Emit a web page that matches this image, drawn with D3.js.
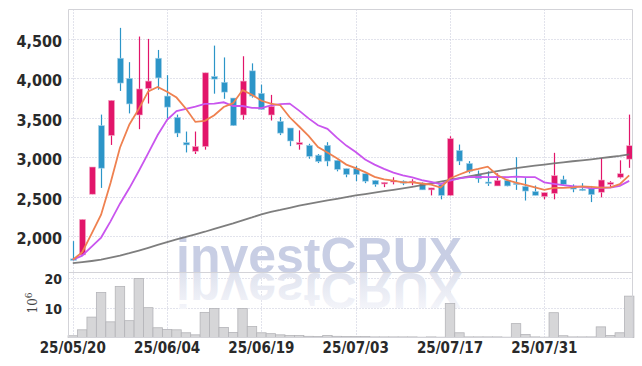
<!DOCTYPE html>
<html>
<head>
<meta charset="utf-8">
<script src="https://cdn.jsdelivr.net/npm/d3@7"></script>
<style>
  html, body { margin: 0; padding: 0; background: #fff; }
  svg { display: block; }
  .tick-label { font-family: "Liberation Sans Narrow", "DejaVu Sans Condensed", sans-serif; font-weight: bold; fill: #2a2a2a; }
</style>
</head>
<body>
<script>
// trading days shown on the chart
const dates = [
  "25/05/20","25/05/21","25/05/22","25/05/23","25/05/26","25/05/27","25/05/28","25/05/29","25/05/30","25/06/02",
  "25/06/04","25/06/05","25/06/09","25/06/10","25/06/11","25/06/12","25/06/13","25/06/16","25/06/17","25/06/18",
  "25/06/19","25/06/20","25/06/23","25/06/24","25/06/25","25/06/26","25/06/27","25/06/30","25/07/01","25/07/02",
  "25/07/03","25/07/04","25/07/07","25/07/08","25/07/09","25/07/10","25/07/11","25/07/14","25/07/15","25/07/16",
  "25/07/17","25/07/18","25/07/21","25/07/22","25/07/23","25/07/24","25/07/25","25/07/28","25/07/29","25/07/30",
  "25/07/31","25/08/01","25/08/04","25/08/05","25/08/06","25/08/07","25/08/08","25/08/11","25/08/12","25/08/13"
];

const open = [1710,1760,2530,3400,3275,4255,4000,3535,3870,4255,3775,3505,3185,3075,3135,4025,3950,3750,3535,4095,
  3810,3535,3455,3370,3160,3150,3025,3150,2960,2855,2855,2790,2705,2660,2685,2695,2680,2670,2585,2650,
  2515,3085,2920,2775,2685,2635,2705,2670,2630,2565,2500,2540,2715,2620,2595,2600,2555,2655,2745,2975];
const high = [1935,2210,2875,3540,3720,4640,4205,4530,4500,4360,4040,3540,3325,3325,4070,4415,4265,3750,4280,4190,
  3920,3790,3510,3370,3340,3170,3040,3190,2960,2855,2890,2790,2710,2680,2745,2705,2720,2680,2610,2670,
  3265,3160,2950,2830,2820,2795,2705,3000,2735,2640,2550,3055,2765,2655,2670,2635,2990,2695,2960,3540];
const low = [1690,1755,2530,2610,3155,3840,3555,3355,3680,3855,3470,3255,3060,3040,3095,3805,3740,3395,3475,3755,
  3600,3465,3280,3140,3095,2980,2925,2885,2820,2745,2695,2670,2625,2620,2655,2645,2645,2585,2515,2465,
  2510,2900,2795,2675,2635,2635,2630,2585,2450,2515,2465,2465,2640,2555,2570,2430,2490,2620,2730,2865];
const close = [1700,2210,2875,2860,3720,3940,3675,3865,3965,4005,3635,3305,3155,3135,4070,3990,3825,3400,3965,3775,
  3605,3645,3305,3205,3185,3010,2945,2950,2845,2780,2780,2695,2655,2680,2705,2670,2695,2585,2610,2515,
  3235,2950,2820,2725,2670,2705,2635,2655,2570,2515,2550,2765,2655,2595,2580,2525,2710,2680,2790,3145];
// volume in millions of shares
const volume = [0.6,2.6,6.9,15.2,5.3,17.3,5.7,20.0,10.1,3.3,2.7,2.6,1.6,0.9,8.5,9.8,3.4,1.7,9.8,3.7,
  1.6,1.3,0.9,0.7,0.7,0.4,0.3,0.7,0.4,0.3,0.3,0.3,0.2,0.2,0.2,0.2,0.2,0.1,0.2,0.1,
  11.5,1.6,0.2,0.2,0.2,0.2,0.1,4.7,1.0,0.2,0.1,8.4,0.6,0.2,0.2,0.2,3.6,0.7,1.6,14.0];
// moving averages (5, 10 and 60 day)
const ma5 = [1698,1795,2030,2270,2672,3120,3414,3612,3834,3891,3829,3756,3614,3447,3460,3531,3636,3685,3851,3792,
  3715,3679,3659,3506,3389,3269,3129,3058,2987,2906,2860,2810,2751,2717,2702,2680,2680,2666,2652,2615,
  2729,2780,2827,2850,2880,2774,2711,2678,2647,2616,2586,2611,2610,2616,2629,2624,2613,2618,2657,2769];
const ma10 = [1700,1751,1866,1980,2186,2410,2608,2824,3051,3281,3475,3585,3613,3641,3675,3680,3696,3649,3649,3626,
  3623,3657,3672,3679,3590,3492,3404,3359,3247,3147,3065,2970,2905,2852,2804,2770,2745,2709,2685,2659,
  2704,2730,2747,2751,2748,2751,2745,2753,2748,2748,2680,2661,2644,2631,2623,2605,2612,2614,2636,2699];
const ma60 = [1655,1668,1683,1700,1725,1752,1782,1815,1850,1886,1921,1956,1990,2022,2054,2090,2125,2160,2198,2235,
  2275,2305,2330,2358,2385,2408,2430,2452,2472,2493,2514,2532,2550,2568,2586,2604,2624,2644,2666,2690,
  2713,2735,2757,2778,2800,2822,2843,2862,2878,2892,2905,2920,2935,2948,2960,2973,2987,3002,3016,3034];

const priceTicks = [2000, 2500, 3000, 3500, 4000, 4500];
const volTicks = [10, 20];
const dateTicks = [0, 10, 20, 30, 40, 50];

const width = 642, height = 366;
const left = 68.5, right = 632.5;
const priceTop = 9.5, priceBottom = 272.5, volBottom = 337.5;

const svg = d3.select("body").append("svg")
  .attr("width", width)
  .attr("height", height);

const x = d3.scaleLinear().domain([0, dates.length - 1]).range([72.8, 629.2]);
const y = d3.scaleLinear().domain([1537, 4873]).range([priceBottom, priceTop]);
const yv = d3.scaleLinear().domain([0, 22]).range([volBottom, priceBottom]);

const dotted = "1,2";
const gridColor = "#c4c6d8";

// grid
const grid = svg.append("g");
grid.selectAll(".hgrid").data(priceTicks).enter().append("line")
  .attr("x1", left).attr("x2", right)
  .attr("y1", d => Math.round(y(d)) + 0.5).attr("y2", d => Math.round(y(d)) + 0.5)
  .attr("stroke", gridColor).attr("stroke-dasharray", dotted);
grid.selectAll(".vgridv").data(volTicks).enter().append("line")
  .attr("x1", left).attr("x2", right)
  .attr("y1", d => Math.round(yv(d)) + 0.5).attr("y2", d => Math.round(yv(d)) + 0.5)
  .attr("stroke", gridColor).attr("stroke-dasharray", dotted);
grid.selectAll(".xgrid").data(dateTicks).enter().append("line")
  .attr("x1", d => Math.round(x(d)) + 0.5).attr("x2", d => Math.round(x(d)) + 0.5)
  .attr("y1", priceTop).attr("y2", volBottom)
  .attr("stroke", gridColor).attr("stroke-dasharray", dotted);

// watermark with a fading reflection
const defs = svg.append("defs");
const grad = defs.append("linearGradient").attr("id", "fade")
  .attr("gradientUnits", "userSpaceOnUse")
  .attr("x1", 0).attr("x2", 0).attr("y1", priceBottom).attr("y2", priceBottom - 40);
grad.append("stop").attr("offset", 0).attr("stop-color", "#dfe2ee");
grad.append("stop").attr("offset", 1).attr("stop-color", "#f6f7fb");

const wm = svg.append("g").attr("font-family", "Liberation Sans, Arial, sans-serif")
  .attr("font-weight", "bold").attr("font-size", 50);
wm.append("text").attr("x", 176).attr("y", priceBottom)
  .attr("fill", "#c8cee4").text("investCRUX");
wm.append("text").attr("transform", `translate(0,${2 * priceBottom}) scale(1,-1)`)
  .attr("x", 176).attr("y", priceBottom)
  .attr("fill", "url(#fade)").text("investCRUX");

// volume bars
const bw = x(1) - x(0);
svg.append("g").selectAll("rect").data(volume).enter().append("rect")
  .attr("x", (d, i) => x(i) - bw / 2)
  .attr("y", d => yv(d))
  .attr("width", bw)
  .attr("height", d => volBottom - yv(d))
  .attr("fill", "#d6d6d8")
  .attr("stroke", "#b4b4b8")
  .attr("stroke-width", 0.8);

// candles
const up = "#e2156a", down = "#2c95c8";
const candles = svg.append("g").selectAll("g").data(dates).enter().append("g");
candles.append("line")
  .attr("x1", (d, i) => Math.round(x(i)) + 0.5).attr("x2", (d, i) => Math.round(x(i)) + 0.5)
  .attr("y1", (d, i) => y(high[i])).attr("y2", (d, i) => y(low[i]))
  .attr("stroke", (d, i) => close[i] >= open[i] ? up : down)
  .attr("stroke-width", 1.2);
candles.append("rect")
  .attr("x", (d, i) => Math.round(x(i)) - 2.5)
  .attr("y", (d, i) => y(Math.max(open[i], close[i])))
  .attr("width", 6)
  .attr("height", (d, i) => Math.max(1.5, Math.abs(y(open[i]) - y(close[i]))))
  .attr("fill", (d, i) => close[i] >= open[i] ? up : down)
  .attr("stroke", (d, i) => close[i] >= open[i] ? "#f3a9c6" : "#a9d3ea")
  .attr("stroke-width", 0.6);

// moving average lines
const line = arr => d3.line().x((d, i) => x(i)).y(d => y(d))(arr);
svg.append("path").attr("d", line(ma60)).attr("fill", "none")
  .attr("stroke", "#707070").attr("stroke-width", 1.8).attr("stroke-opacity", 0.9);
svg.append("path").attr("d", line(ma10)).attr("fill", "none")
  .attr("stroke", "#c955ee").attr("stroke-width", 1.8);
svg.append("path").attr("d", line(ma5)).attr("fill", "none")
  .attr("stroke", "#ef8150").attr("stroke-width", 1.8);

// frame
const frame = svg.append("g").attr("stroke", "#d3d3d8").attr("fill", "none");
frame.append("line").attr("x1", left).attr("x2", right).attr("y1", priceTop).attr("y2", priceTop);
frame.append("line").attr("x1", left).attr("x2", left).attr("y1", priceTop).attr("y2", volBottom);
frame.append("line").attr("x1", right).attr("x2", right).attr("y1", priceTop).attr("y2", volBottom);
frame.append("line").attr("x1", left).attr("x2", right).attr("y1", priceBottom).attr("y2", priceBottom);
frame.append("line").attr("x1", left).attr("x2", right).attr("y1", volBottom).attr("y2", volBottom);

// axis labels
const fmt = d3.format(",");
svg.append("g").selectAll("text").data(priceTicks).enter().append("text")
  .attr("class", "tick-label")
  .attr("x", 62).attr("y", d => y(d) + 8)
  .attr("text-anchor", "end").attr("font-size", 16)
  .text(d => fmt(d));
svg.append("g").selectAll("text").data(volTicks).enter().append("text")
  .attr("class", "tick-label")
  .attr("x", 62).attr("y", d => yv(d) + 6)
  .attr("text-anchor", "end").attr("font-size", 14)
  .text(d => d);
svg.append("g").selectAll("text").data(dateTicks).enter().append("text")
  .attr("class", "tick-label")
  .attr("x", d => x(d)).attr("y", 353)
  .attr("text-anchor", "middle").attr("font-size", 15)
  .text(d => dates[d]);

// volume unit
const unit = svg.append("text")
  .attr("transform", "translate(37,303) rotate(-90)")
  .attr("text-anchor", "middle")
  .attr("font-family", "DejaVu Serif, serif").attr("font-size", 12).attr("fill", "#444");
unit.append("tspan").text("10");
unit.append("tspan").attr("dy", -5).attr("font-size", 9).text("6");
</script>
</body>
</html>
